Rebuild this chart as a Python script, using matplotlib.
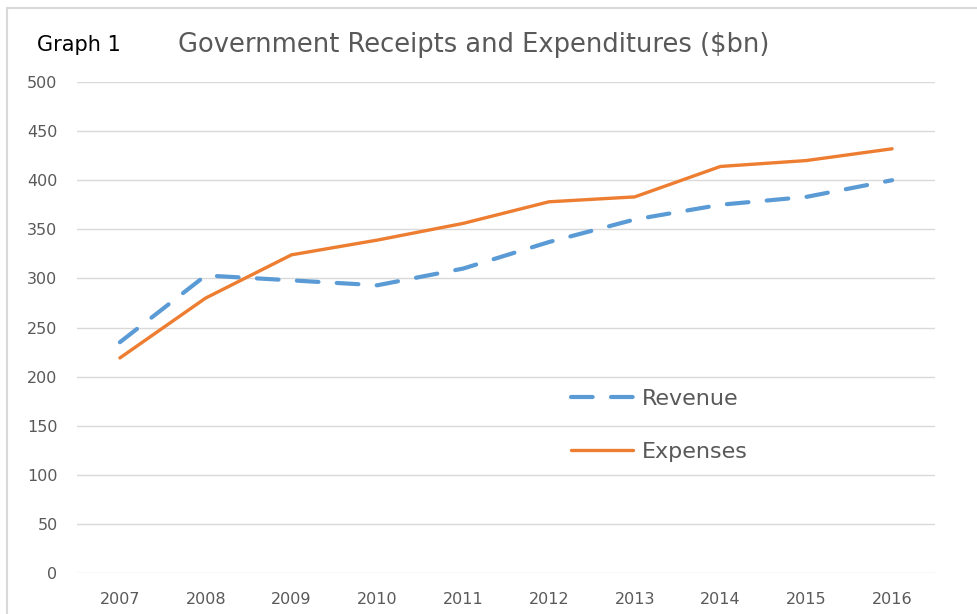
import matplotlib.pyplot as plt
from matplotlib.lines import Line2D

years = ['2007', '2008', '2009', '2010', '2011', '2012', '2013', '2014', '2015', '2016']
revenue = [235, 303, 298, 293, 310, 337, 360, 375, 383, 400]
expenses = [219, 280, 324, 339, 356, 378, 383, 414, 420, 432]
y_ticks = list(range(0, 501, 50))

W, H = 978, 614
fig = plt.figure(figsize=(W / 100, H / 100), dpi=100)

# outer chart frame (only left and top edges show in the reference)
frame_x, frame_y = 7 / W, 1 - 8 / H
fig.add_artist(Line2D([frame_x, 1.02], [frame_y, frame_y], transform=fig.transFigure,
                      color='#d9d9d9', linewidth=1.5))
fig.add_artist(Line2D([frame_x, frame_x], [-0.02, frame_y], transform=fig.transFigure,
                      color='#d9d9d9', linewidth=1.5))

ax = fig.add_axes([77 / W, 1 - 573 / H, (935 - 77) / W, (573 - 82) / H])

x = list(range(len(years)))
ax.plot(x, revenue, color='#5B9BD5', linewidth=3, dashes=(5.2, 4.4),
        dash_capstyle='round', label='Revenue')
ax.plot(x, expenses, color='#ED7D31', linewidth=2.4, solid_capstyle='round', label='Expenses')

ax.set_xlim(-0.5, len(years) - 0.5)
ax.set_ylim(0, 500)
ax.set_xticks(x)
ax.set_xticklabels(years)
ax.set_yticks(y_ticks)
ax.grid(axis='y', color='#d9d9d9', linewidth=1)
ax.set_axisbelow(True)
for s in ax.spines.values():
    s.set_visible(False)
ax.tick_params(length=0, labelsize=11.5, colors='#595959', labelfontfamily='DejaVu Sans')
ax.tick_params(axis='y', pad=14)
ax.tick_params(axis='x', pad=14)

leg = ax.legend(frameon=False, loc='upper left', bbox_to_anchor=(0.553, 0.416),
                handlelength=2.75, labelspacing=1.48, handletextpad=0.44,
                prop={'family': 'DejaVu Sans', 'size': 16})
for t in leg.get_texts():
    t.set_color('#595959')

fig.text(37 / W, 1 - 45 / H, 'Graph 1', fontsize=15, color='black', family='DejaVu Sans', va='center')
fig.text(178 / W, 1 - 45 / H, 'Government Receipts and Expenditures ($bn)', fontsize=18.5,
         color='#595959', family='DejaVu Sans', va='center')

fig.savefig('out.png', dpi=100)
